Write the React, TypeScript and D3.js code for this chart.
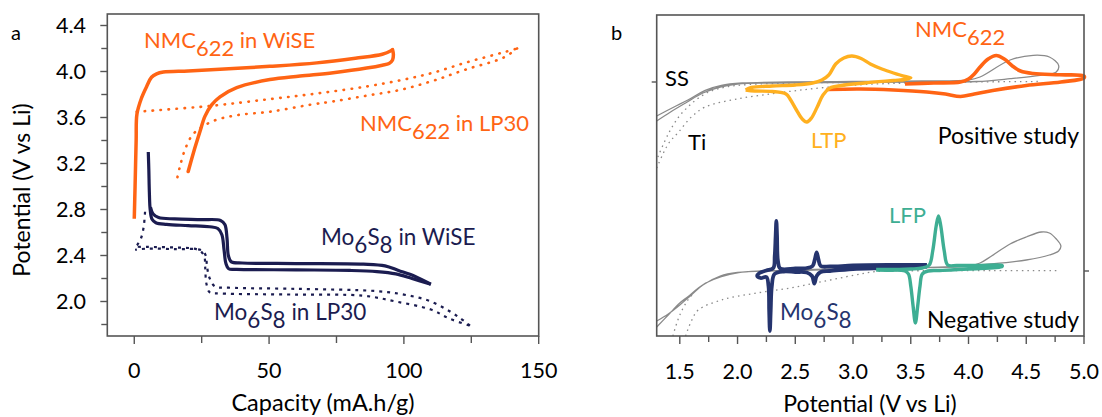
import React from "react";
import * as d3 from "d3";

// ---------------- DATA ----------------
// Panel a: capacity (mA.h/g) vs potential (V vs Li)
const aXTicks = [0, 50, 100, 150];
const aXMinor = [25, 75, 125];
const aYTicks = [2.0, 2.4, 2.8, 3.2, 3.6, 4.0, 4.4];
const aYMinor = [1.8, 2.2, 2.6, 3.0, 3.4, 3.8, 4.2];

const nmcWiseCharge: [number, number][] = [
  [0, 2.72], [0.3, 3.0], [0.7, 3.4], [1.0, 3.63], [2.7, 3.77], [4.6, 3.87], [6.4, 3.95],
  [8.3, 3.98], [10.8, 3.995], [20, 4.005], [31.8, 4.02], [50.3, 4.045], [67.7, 4.075],
  [82, 4.115], [92, 4.15], [95.2, 4.18], [95.8, 4.19],
];
const nmcWiseDischarge: [number, number][] = [
  [95.8, 4.19], [96.1, 4.15], [95.8, 4.1], [94.5, 4.07], [92, 4.055], [86.2, 4.03], [73.8, 3.99],
  [61.5, 3.96], [50.3, 3.93], [38, 3.86], [31.8, 3.78], [28.7, 3.71], [26.2, 3.61],
  [24.4, 3.48], [21.9, 3.29], [20.0, 3.13],
];
const nmcLp30Charge: [number, number][] = [
  [0.9, 3.65], [28, 3.7], [50.3, 3.76], [68.2, 3.81], [86.2, 3.87], [100, 3.93],
  [110.9, 3.99], [123.3, 4.08], [137.5, 4.17], [142, 4.2],
];
const nmcLp30Discharge: [number, number][] = [
  [142, 4.2], [136.9, 4.12], [123.3, 4.02], [110.9, 3.92], [98.6, 3.84], [86.2, 3.79],
  [73.8, 3.74], [65, 3.71], [50.3, 3.65], [38, 3.62], [29.3, 3.57], [24, 3.5],
  [21.3, 3.44], [18.8, 3.32], [17, 3.18], [16, 3.08],
];
const moWiseDischarge: [number, number][] = [
  [5.2, 3.3], [5.4, 3.15], [5.6, 2.95], [5.9, 2.8], [6.6, 2.715], [8, 2.685], [12, 2.67],
  [20, 2.66], [28, 2.65], [31, 2.635], [32.5, 2.58], [33.3, 2.45], [34, 2.33], [35, 2.285],
  [38, 2.28], [60, 2.275], [80, 2.27], [90, 2.26], [97, 2.24], [103, 2.2], [110, 2.15],
];
const moWiseCharge: [number, number][] = [
  [110, 2.15], [104, 2.22], [98, 2.27], [93, 2.31], [85, 2.325], [60, 2.33], [40, 2.335],
  [36, 2.345], [34.9, 2.4], [34.4, 2.55], [33.6, 2.67], [32, 2.705], [25, 2.712],
  [15, 2.718], [9, 2.73], [7, 2.76], [6, 2.82],
];
const moLp30Discharge: [number, number][] = [
  [4.0, 2.78], [3.5, 2.65], [2.5, 2.55], [1.0, 2.49], [0.3, 2.48], [5, 2.475], [15, 2.47],
  [22, 2.46], [24.5, 2.44], [26, 2.39], [26.3, 2.3], [26.8, 2.15], [28, 2.08], [32, 2.07],
  [60, 2.06], [85, 2.05], [97, 2.0], [110, 1.93], [117, 1.85], [124.5, 1.79],
];
const moLp30Charge: [number, number][] = [
  [124.5, 1.79], [120, 1.87], [110, 2.0], [100, 2.06], [90, 2.09], [60, 2.11], [35, 2.12],
  [30, 2.13], [28, 2.2], [27, 2.3], [26.5, 2.4], [25, 2.445], [15, 2.455], [5, 2.46],
  [0.3, 2.45],
];

// Panel b: potential (V vs Li) vs current (a.u., offset per study)
const bXTicks = [1.5, 2.0, 2.5, 3.0, 3.5, 4.0, 4.5, 5.0];
const bXMinor = [1.75, 2.25, 2.75, 3.25, 3.75, 4.25, 4.75];

// positive study
const ssPos: [number, number][] = [
  [1.3, -3.4], [1.45, -2.5], [1.57, -1.8], [1.72, -0.83], [1.86, -0.33], [2.04, -0.1],
  [2.44, 0.0], [3.0, 0.05], [3.6, 0.1], [4.0, 0.2], [4.1, 0.5], [4.36, 2.2], [4.56, 2.67],
  [4.7, 2.5], [4.78, 1.67], [4.76, 1.0], [4.62, 0.67], [4.36, 0.33], [4.07, 0.05],
  [3.5, 0.0], [2.8, -0.05], [2.3, -0.1], [2.0, -0.2], [1.85, -0.5], [1.7, -1.1],
  [1.55, -2.1], [1.42, -3.0], [1.3, -3.9],
];
const tiPosA: [number, number][] = [
  [1.3, -8.6], [1.4, -6.2], [1.49, -5.0], [1.6, -3.5], [1.72, -2.5], [2.01, -1.67],
  [2.3, -1.17], [2.53, -0.83], [2.8, -0.5], [3.1, -0.25], [3.5, -0.1], [4.0, 0.0], [4.6, 0.05],
];
const tiPosB: [number, number][] = [
  [1.31, -7.5], [1.4, -5.2], [1.49, -3.5], [1.57, -2.5], [1.65, -1.7], [1.75, -1.0],
  [1.9, -0.5], [2.1, -0.25], [2.5, -0.1], [3.0, -0.05], [3.5, -0.02],
];
const ltpCV: [number, number][] = [
  [2.07, -0.8], [2.12, -0.55], [2.3, -0.4], [2.5, -0.3], [2.65, -0.1], [2.73, 0.2],
  [2.79, 0.7], [2.85, 1.8], [2.92, 2.4], [2.99, 2.6], [3.07, 2.35], [3.15, 1.8],
  [3.25, 1.3], [3.35, 0.9], [3.45, 0.55], [3.5, 0.42], [3.45, 0.25], [3.35, 0.15],
  [3.1, -0.1], [2.9, -0.35], [2.8, -0.6], [2.74, -1.3], [2.69, -2.5], [2.64, -3.6],
  [2.6, -4.0], [2.56, -3.7], [2.51, -2.8], [2.46, -1.8], [2.42, -1.2], [2.3, -0.95],
  [2.15, -0.9], [2.07, -0.8],
];
const nmcCV: [number, number][] = [
  [3.45, -0.2], [3.7, -0.1], [3.93, 0.0], [4.0, 0.3], [4.05, 0.8], [4.1, 1.5], [4.17, 2.3],
  [4.24, 2.65], [4.31, 2.3], [4.38, 1.6], [4.45, 1.1], [4.56, 0.85], [4.79, 0.72],
  [5.0, 0.6], [5.0, 0.4], [4.8, 0.0], [4.5, -0.35], [4.21, -0.85], [4.05, -1.2],
  [3.93, -1.45], [3.8, -1.2], [3.64, -1.0], [3.35, -0.8], [3.06, -0.7], [2.77, -0.75],
];

// negative study
const ssNeg: [number, number][] = [
  [1.3, -5.6], [1.4, -4.4], [1.5, -3.2], [1.57, -2.57], [1.65, -1.8], [1.72, -1.23],
  [1.86, -0.57], [2.01, -0.17], [2.2, 0.0], [2.5, 0.1], [3.0, 0.25], [3.5, 0.35],
  [4.0, 0.5], [4.1, 0.8], [4.2, 1.5], [4.36, 2.7], [4.5, 3.4], [4.63, 3.9], [4.7, 3.8],
  [4.76, 3.2], [4.8, 2.5], [4.78, 2.0], [4.7, 1.6], [4.5, 1.1], [4.2, 0.7], [3.8, 0.4],
  [3.3, 0.25], [2.5, 0.05], [2.0, -0.15], [1.85, -0.5], [1.7, -1.4], [1.6, -2.4],
  [1.5, -3.4], [1.4, -4.3], [1.3, -5.0],
];
const tiNegA: [number, number][] = [
  [1.44, -6.5], [1.48, -5.0], [1.52, -3.9], [1.57, -2.9], [1.62, -2.2],
];
const tiNegB: [number, number][] = [
  [1.55, -6.5], [1.6, -5.0], [1.66, -3.9], [1.86, -2.9], [2.15, -2.23], [2.44, -1.73],
  [2.73, -1.07], [3.02, -0.4], [3.19, -0.07], [3.6, 0.03], [4.2, 0.03], [4.79, 0.03],
];
const moCV: [number, number][] = [
  [3.64, 0.45], [3.3, 0.3], [3.0, 0.2], [2.8, 0.0], [2.72, -0.1], [2.685, -0.5],
  [2.665, -1.25], [2.645, -0.5], [2.6, -0.15], [2.5, -0.1], [2.4, -0.05], [2.32, -0.3],
  [2.297, -1.5], [2.287, -4.0], [2.28, -6.0], [2.274, -4.0], [2.268, -1.5], [2.25, -0.6],
  [2.2, -0.7], [2.17, -0.5], [2.19, -0.2], [2.25, 0.05], [2.31, 0.3], [2.322, 1.5],
  [2.33, 3.5], [2.336, 5.0], [2.342, 3.5], [2.35, 1.0], [2.37, 0.25], [2.5, 0.25],
  [2.6, 0.3], [2.65, 0.5], [2.67, 1.2], [2.685, 1.85], [2.7, 1.2], [2.72, 0.5],
  [2.8, 0.45], [3.0, 0.55], [3.3, 0.6], [3.64, 0.6],
];
const lfpCV: [number, number][] = [
  [3.2, 0.15], [3.4, 0.15], [3.5, 0.2], [3.6, 0.3], [3.66, 0.6], [3.69, 2.0], [3.72, 4.5],
  [3.74, 5.5], [3.76, 4.5], [3.79, 2.0], [3.82, 0.6], [3.9, 0.55], [4.1, 0.55],
  [4.29, 0.55], [4.29, 0.45], [4.0, 0.2], [3.75, 0.05], [3.65, 0.0], [3.6, -0.3],
  [3.58, -1.5], [3.56, -3.5], [3.54, -5.2], [3.52, -3.5], [3.5, -1.5], [3.48, -0.3],
  [3.45, 0.0], [3.3, 0.08], [3.2, 0.1],
];

// ---------------- STYLE ----------------
const ORANGE = "#ff6414";
const NAVY_A = "#1b1c50";
const NAVY_B = "#25346e";
const LTP = "#ffb020";
const LFP = "#3eae93";
const GRAY = "#8a8a8a";
const FRAME = "#555";
const FONT = "Lato, 'Open Sans', sans-serif";

const W = 1102;
const H = 417;

// panel a scales
const xA = d3.scaleLinear().domain([-10, 150]).range([107.3, 538.7]);
const yA = d3.scaleLinear().domain([1.7, 4.5]).range([336, 14]);
// panel b scales
const xB = d3.scaleLinear().domain([1.3, 5.0]).range([656.7, 1084]);
const yBTop = d3.scaleLinear().domain([-25.4, 6.7]).range([336, 15]);
const yBBot = d3.scaleLinear().domain([-6.5, 25.6]).range([336, 15]);

const lineA = d3
  .line<[number, number]>()
  .x((d) => xA(d[0]))
  .y((d) => yA(d[1]))
  .curve(d3.curveCatmullRom.alpha(0.5));

const lineBTop = d3
  .line<[number, number]>()
  .x((d) => xB(d[0]))
  .y((d) => yBTop(d[1]))
  .curve(d3.curveCatmullRom.alpha(0.5));

const lineBBot = d3
  .line<[number, number]>()
  .x((d) => xB(d[0]))
  .y((d) => yBBot(d[1]))
  .curve(d3.curveCatmullRom.alpha(0.5));

function Sub({ x, y, parts, color, size = 22, anchor = "start" }: any) {
  let prevSub = false;
  return (
    <text x={x} y={y} fill={color} fontSize={size} fontFamily={FONT} textAnchor={anchor}>
      {parts.map((p: [string, boolean], i: number) => {
        const dy = p[1] && !prevSub ? 8 : !p[1] && prevSub ? -8 : 0;
        prevSub = p[1];
        return (
          <tspan key={i} dy={dy}>
            {p[0]}
          </tspan>
        );
      })}
    </text>
  );
}

export default function App() {
  const [ax0, ax1] = xA.range();
  const [ay0, ay1] = yA.range();
  const [bx0, bx1] = xB.range();
  const by0 = 336;
  const by1 = 15;
  const TICKF = 21.5;

  return (
    <svg
      width={W}
      height={H}
      style={{ position: "fixed", left: 0, top: 0, background: "#fff" }}
      fontFamily={FONT}
    >
      <rect width={W} height={H} fill="#fff" />

      {/* ============ PANEL A ============ */}
      <text x={11} y={40} fontSize={20} fill="#000">a</text>

      <path d={lineA(nmcLp30Charge) || ""} fill="none" stroke={ORANGE} strokeWidth={2.6} strokeDasharray="0.5 7.5" strokeLinecap="round" />
      <path d={lineA(nmcLp30Discharge) || ""} fill="none" stroke={ORANGE} strokeWidth={2.6} strokeDasharray="0.5 7.5" strokeLinecap="round" />
      <path d={lineA(moLp30Discharge) || ""} fill="none" stroke={NAVY_A} strokeWidth={2.2} strokeDasharray="3 5" />
      <path d={lineA(moLp30Charge) || ""} fill="none" stroke={NAVY_A} strokeWidth={2.2} strokeDasharray="3 5" />
      <path d={lineA(moWiseDischarge) || ""} fill="none" stroke={NAVY_A} strokeWidth={3.2} strokeLinejoin="round" />
      <path d={lineA(moWiseCharge) || ""} fill="none" stroke={NAVY_A} strokeWidth={3.2} strokeLinejoin="round" />
      <path d={lineA(nmcWiseCharge) || ""} fill="none" stroke={ORANGE} strokeWidth={3.5} strokeLinejoin="round" />
      <path d={lineA(nmcWiseDischarge) || ""} fill="none" stroke={ORANGE} strokeWidth={3.5} strokeLinejoin="round" strokeLinecap="round" />

      <rect x={ax0} y={ay1} width={ax1 - ax0} height={ay0 - ay1} fill="none" stroke={FRAME} strokeWidth={1.6} />

      {aXTicks.map((t) => (
        <g key={"axt" + t}>
          <line x1={xA(t)} x2={xA(t)} y1={ay0} y2={ay0 + 8} stroke={FRAME} strokeWidth={1.4} />
          <text x={xA(t)} y={378} textAnchor="middle" fontSize={TICKF} fill="#000">{t}</text>
        </g>
      ))}
      {aXMinor.map((t) => (
        <line key={"axm" + t} x1={xA(t)} x2={xA(t)} y1={ay0} y2={ay0 + 7} stroke={FRAME} strokeWidth={1.4} />
      ))}
      {aYTicks.map((t) => (
        <g key={"ayt" + t}>
          <line x1={ax0 - 7} x2={ax0} y1={yA(t)} y2={yA(t)} stroke={FRAME} strokeWidth={1.4} />
          <text x={86} y={yA(t)} dy="0.36em" textAnchor="end" fontSize={TICKF} fill="#000">{t.toFixed(1)}</text>
        </g>
      ))}
      {aYMinor.map((t) => (
        <line key={"aym" + t} x1={ax0 - 6} x2={ax0} y1={yA(t)} y2={yA(t)} stroke={FRAME} strokeWidth={1.4} />
      ))}

      <text x={323} y={411} textAnchor="middle" fontSize={23.5} fill="#000">Capacity (mA.h/g)</text>
      <text transform="translate(30,190) rotate(-90)" textAnchor="middle" fontSize={23} fill="#000">Potential (V vs Li)</text>

      <Sub x={144} y={48} color={ORANGE} parts={[["NMC", false], ["622", true], [" in WiSE", false]]} />
      <Sub x={360} y={131} color={ORANGE} parts={[["NMC", false], ["622", true], [" in LP30", false]]} />
      <Sub x={321} y={245} color={NAVY_A} size={22.5} parts={[["Mo", false], ["6", true], ["S", false], ["8", true], [" in WiSE", false]]} />
      <Sub x={214} y={320} color={NAVY_A} size={22.5} parts={[["Mo", false], ["6", true], ["S", false], ["8", true], [" in LP30", false]]} />

      {/* ============ PANEL B ============ */}
      <text x={611} y={40} fontSize={20} fill="#000">b</text>

      <path d={lineBTop(tiPosA) || ""} fill="none" stroke={GRAY} strokeWidth={1.3} strokeDasharray="1.5 4" />
      <path d={lineBTop(tiPosB) || ""} fill="none" stroke={GRAY} strokeWidth={1.3} strokeDasharray="1.5 4" />
      <path d={lineBTop(ssPos) || ""} fill="none" stroke={GRAY} strokeWidth={1.3} />
      <path d={lineBTop(nmcCV) || ""} fill="none" stroke={ORANGE} strokeWidth={3.6} strokeLinejoin="round" />
      <path d={lineBTop(ltpCV) || ""} fill="none" stroke={LTP} strokeWidth={3.4} strokeLinejoin="round" />

      <path d={lineBBot(tiNegA) || ""} fill="none" stroke={GRAY} strokeWidth={1.3} strokeDasharray="1.5 4" />
      <path d={lineBBot(tiNegB) || ""} fill="none" stroke={GRAY} strokeWidth={1.3} strokeDasharray="1.5 4" />
      <path d={lineBBot(ssNeg) || ""} fill="none" stroke={GRAY} strokeWidth={1.3} />
      <path d={lineBBot(moCV) || ""} fill="none" stroke={NAVY_B} strokeWidth={3.8} strokeLinejoin="round" />
      <path d={lineBBot(lfpCV) || ""} fill="none" stroke={LFP} strokeWidth={3.4} strokeLinejoin="round" />

      <rect x={bx0} y={by1} width={bx1 - bx0} height={by0 - by1} fill="none" stroke={FRAME} strokeWidth={1.6} />
      <line x1={bx0 - 5} x2={bx0} y1={yBTop(0)} y2={yBTop(0)} stroke={FRAME} strokeWidth={1.4} />
      <line x1={bx1} x2={bx1 + 5} y1={yBBot(0)} y2={yBBot(0)} stroke={FRAME} strokeWidth={1.4} />

      {bXTicks.map((t) => (
        <g key={"bxt" + t}>
          <line x1={xB(t)} x2={xB(t)} y1={by0} y2={by0 + 8} stroke={FRAME} strokeWidth={1.4} />
          <text x={xB(t)} y={379} textAnchor="middle" fontSize={TICKF} fill="#000">{t.toFixed(1)}</text>
        </g>
      ))}
      {bXMinor.map((t) => (
        <line key={"bxm" + t} x1={xB(t)} x2={xB(t)} y1={by0} y2={by0 + 6} stroke={FRAME} strokeWidth={1.4} />
      ))}

      <text x={870} y={412} textAnchor="middle" fontSize={23} fill="#000">Potential (V vs Li)</text>

      <text x={665} y={86} fontSize={22} fill="#000">SS</text>
      <text x={688} y={150} fontSize={22} fill="#000">Ti</text>
      <text x={811} y={148} fontSize={22} fill={LTP}>LTP</text>
      <text x={1079} y={144} fontSize={23} fill="#000" textAnchor="end">Positive study</text>
      <Sub x={915} y={37} color={ORANGE} size={22} parts={[["NMC", false], ["622", true]]} />
      <text x={889} y={223} fontSize={22} fill={LFP}>LFP</text>
      <Sub x={780} y={320} color={NAVY_B} size={22.5} parts={[["Mo", false], ["6", true], ["S", false], ["8", true]]} />
      <text x={1079} y={328} fontSize={23} fill="#000" textAnchor="end">Negative study</text>
    </svg>
  );
}
